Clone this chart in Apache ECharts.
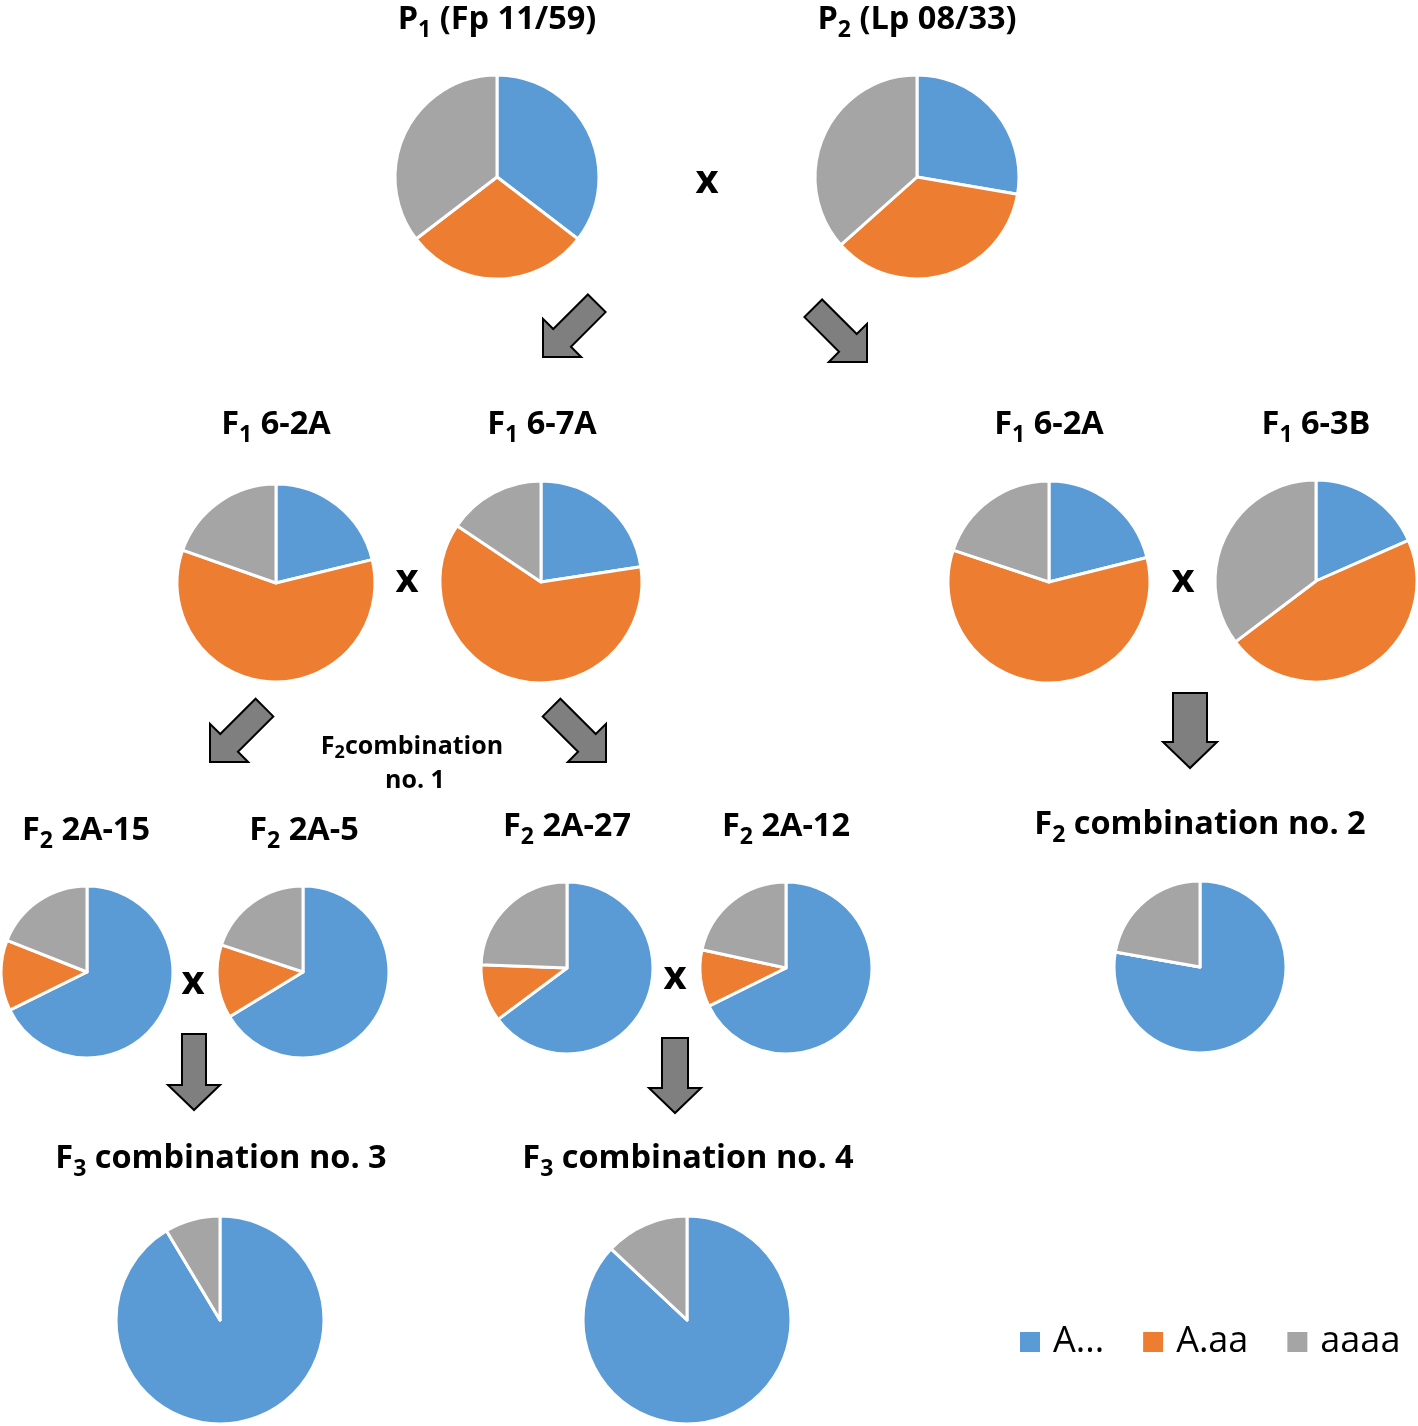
<!DOCTYPE html>
<html><head><meta charset="utf-8">
<script src="https://cdn.jsdelivr.net/npm/echarts@6/dist/echarts.min.js"></script>
<style>html,body{margin:0;padding:0;background:#fff}#c{width:1418px;height:1426px}</style>
</head><body><div id="c"></div>
<script>
// ---------- data ----------
const categories = ['A...', 'A.aa', 'aaaa'];
const seriesA    = [35.4, 27.7, 21.2, 22.6, 21.1, 18.4, 67.7, 66.3, 64.8, 67.7, 77.8, 91.4, 87.0];
const seriesAaa  = [29.2, 35.7, 59.2, 61.8, 59.0, 46.3, 13.3, 13.8, 10.8, 10.7, 0, 0, 0];
const seriesAaaa = [35.4, 36.6, 19.6, 15.6, 19.9, 35.3, 19.0, 19.9, 24.4, 21.6, 22.2, 8.6, 13.0];
const pieTitles = [
  ['P', '1', ' (Fp 11/59)'], ['P', '2', ' (Lp 08/33)'],
  ['F', '1', ' 6-2A'], ['F', '1', ' 6-7A'], ['F', '1', ' 6-2A'], ['F', '1', ' 6-3B'],
  ['F', '2', ' 2A-15'], ['F', '2', ' 2A-5'], ['F', '2', ' 2A-27'], ['F', '2', ' 2A-12'],
  ['F', '2', ' combination no. 2'],
  ['F', '3', ' combination no. 3'], ['F', '3', ' combination no. 4']
];
const groupLabelLine1 = ['F', '2', 'combination'];
const groupLabelLine2 = 'no. 1';
const crossMark = 'x';

// ---------- layout / style ----------
const colors = ['#5b9bd5', '#ed7d31', '#a5a5a5'];
const pieLayout = [
  {c: [497, 177], r: 102, t: [497, 20]},
  {c: [917, 177], r: 102, t: [917, 20]},
  {c: [276, 583], r: 99,  t: [276, 425]},
  {c: [541, 582], r: 101, t: [542, 425]},
  {c: [1049, 582], r: 101, t: [1049, 425]},
  {c: [1316, 581], r: 101, t: [1316, 425]},
  {c: [87, 972], r: 86,  t: [86, 831]},
  {c: [303, 972], r: 86, t: [304, 831]},
  {c: [567, 968], r: 86, t: [567, 827]},
  {c: [786, 968], r: 86, t: [786, 827]},
  {c: [1200, 967], r: 86, t: [1200, 825]},
  {c: [220, 1320], r: 104, t: [221, 1159]},
  {c: [687, 1320], r: 104, t: [688, 1159]}
];
const crossPos = [[707, 181], [407, 580], [1183, 580], [193, 982], [675, 977]];
const arrowDefs = [
  {tip: [543, 357], dir: [-1, 1], len: 76, shaft: 25, head: 54, headLen: 27},
  {tip: [867, 362], dir: [1, 1],  len: 76, shaft: 25, head: 54, headLen: 27},
  {tip: [210, 762], dir: [-1, 1], len: 77, shaft: 25, head: 54, headLen: 27},
  {tip: [606, 762], dir: [1, 1],  len: 77, shaft: 25, head: 54, headLen: 27},
  {tip: [1190, 768], dir: [0, 1], len: 75, shaft: 34, head: 54, headLen: 26},
  {tip: [194, 1110], dir: [0, 1], len: 76, shaft: 24, head: 52, headLen: 25},
  {tip: [675, 1113], dir: [0, 1], len: 75, shaft: 26, head: 52, headLen: 25}
];
const FONT = 'Open Sans';

function arrowPoints(a) {
  const l = Math.hypot(a.dir[0], a.dir[1]);
  const d = [a.dir[0] / l, a.dir[1] / l];
  const n = [-d[1], d[0]];
  const local = [
    [0, 0], [a.headLen, a.head / 2], [a.headLen, a.shaft / 2], [a.len, a.shaft / 2],
    [a.len, -a.shaft / 2], [a.headLen, -a.shaft / 2], [a.headLen, -a.head / 2]
  ];
  return local.map(p => [a.tip[0] - d[0] * p[0] + n[0] * p[1], a.tip[1] - d[1] * p[0] + n[1] * p[1]]);
}

function richText(parts, x, y, size, subSize, shift) {
  return {
    type: 'text', silent: true,
    style: {
      x: x, y: y,
      text: '{m|' + parts[0] + '}{s|' + parts[1] + '}' + (parts[2] ? '{m|' + parts[2] + '}' : ''),
      align: 'center', verticalAlign: 'middle', textAlign: 'center', textVerticalAlign: 'middle',
      rich: {
        m: {fontSize: size, fontWeight: 'bold', fontFamily: FONT, fill: '#000', lineHeight: size},
        s: {fontSize: subSize, fontWeight: 'bold', fontFamily: FONT, fill: '#000', lineHeight: subSize, padding: [shift * 2, 0, 0, 0]}
      }
    }
  };
}

const series = pieLayout.map((p, i) => ({
  type: 'pie', center: p.c, radius: p.r, startAngle: 90, clockwise: true,
  silent: true, animation: false,
  label: {show: false}, labelLine: {show: false},
  emphasis: {disabled: true},
  itemStyle: {borderColor: '#fff', borderWidth: 3},
  data: [
    {name: categories[0], value: seriesA[i], itemStyle: {color: colors[0]}},
    {name: categories[1], value: seriesAaa[i], itemStyle: {color: colors[1]}},
    {name: categories[2], value: seriesAaaa[i], itemStyle: {color: colors[2]}}
  ]
}));

const graphics = [];
pieLayout.forEach((p, i) => graphics.push(richText(pieTitles[i], p.t[0], p.t[1], 32.5, 23, 10)));
graphics.push(richText(groupLabelLine1, 412, 747, 25, 18, 6));
graphics.push({type: 'text', silent: true, style: {x: 415, y: 781, text: groupLabelLine2,
  align: 'center', verticalAlign: 'middle', textAlign: 'center', textVerticalAlign: 'middle',
  fontSize: 25, fontWeight: 'bold', fontFamily: FONT, fill: '#000'}});
crossPos.forEach(c => graphics.push({type: 'text', silent: true, style: {x: c[0], y: c[1] + 1, text: crossMark,
  align: 'center', verticalAlign: 'middle', textAlign: 'center', textVerticalAlign: 'middle',
  fontSize: 40, fontWeight: 'bold', fontFamily: FONT, fill: '#000'}}));
arrowDefs.forEach(a => graphics.push({type: 'polygon', silent: true, shape: {points: arrowPoints(a)},
  style: {fill: '#7f7f7f', stroke: '#000', lineWidth: 2, lineJoin: 'miter'}}));

const chart = echarts.init(document.getElementById('c'), null, {renderer: 'canvas'});
chart.setOption({
  animation: false,
  backgroundColor: '#fff',
  color: colors,
  legend: {
    data: categories, left: 1018, top: 1324, padding: 0, orient: 'horizontal',
    itemWidth: 22, itemHeight: 22, itemGap: 37, icon: 'rect', selectedMode: false,
    textStyle: {fontSize: 36, fontFamily: FONT, color: '#000', padding: [0, 0, 0, 7]}
  },
  series: series,
  graphic: {elements: graphics}
});
</script></body></html>
